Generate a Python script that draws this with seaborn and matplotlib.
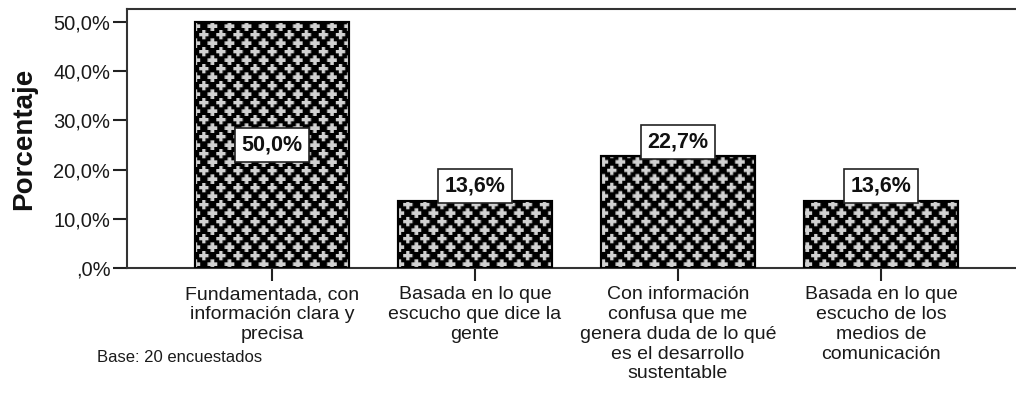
import numpy as np
import pandas as pd
import matplotlib
matplotlib.use("Agg")
import matplotlib.pyplot as plt
from matplotlib.ticker import FuncFormatter, MultipleLocator
import seaborn as sns

categories = [
    "Fundamentada, con\ninformación clara y\nprecisa",
    "Basada en lo que\nescucho que dice la\ngente",
    "Con información\nconfusa que me\ngenera duda de lo qué\nes el desarrollo\nsustentable",
    "Basada en lo que\nescucho de los\nmedios de\ncomunicación",
]
percentages = [50.0, 13.6, 22.7, 13.6]
value_labels = ["50,0%", "13,6%", "22,7%", "13,6%"]
y_label = "Porcentaje"
footnote = "Base: 20 encuestados"

sns.set_theme(style="white")
plt.rcParams["font.family"] = ["Liberation Sans", "DejaVu Sans"]

W, H, DPI = 1016, 396, 100
fig = plt.figure(figsize=(W / DPI, H / DPI), dpi=DPI)
ax_left_px, ax_bottom_px, ax_top_px = 127, 268, 9
xlim = (-0.714, 3.714)
px_per_unit = 203
ax_w_px = (xlim[1] - xlim[0]) * px_per_unit
ax = fig.add_axes([ax_left_px / W, (H - ax_bottom_px) / H,
                   ax_w_px / W, (ax_bottom_px - ax_top_px) / H])

df = pd.DataFrame({"cat": categories, "pct": percentages})
sns.barplot(data=df, x="cat", y="pct", color="black", width=0.76,
            edgecolor="black", linewidth=1.5, saturation=1, ax=ax, zorder=2)

ylim = (0, 50 * (ax_bottom_px - ax_top_px) / (ax_bottom_px - 22))
ax.set_xlim(*xlim)
ax.set_ylim(*ylim)

# staggered "plus" fill pattern (decoration), in axes pixels
hp = int(round(ax_bottom_px - ax_top_px))
wp = int(round(ax_w_px))
ss = 3
yy, xx = np.mgrid[0:hp * ss, 0:wp * ss] / ss
P = 17.0
def cross(dx, dy):
    arm, th = 4.8, 1.8
    return ((np.abs(dx) <= arm) & (np.abs(dy) <= th)) | ((np.abs(dx) <= th) & (np.abs(dy) <= arm))
m = np.zeros_like(xx, dtype=bool)
for ox, oy in [(0, 0), (P / 2, P / 2)]:
    dx = (xx - ox + P / 2) % P - P / 2
    dy = (yy - oy + P / 2) % P - P / 2
    m |= cross(dx, dy)
inten = m.reshape(hp, ss, wp, ss).mean(axis=(1, 3)) * 0.82
img = np.dstack([inten] * 3)

for bar in list(ax.patches):
    im = ax.imshow(img, extent=(xlim[0], xlim[1], ylim[0], ylim[1]), origin="upper",
                   aspect="auto", interpolation="bilinear", zorder=2.5)
    im.set_clip_path(bar)
    outline = plt.Rectangle(bar.get_xy(), bar.get_width(), bar.get_height(),
                            fill=False, edgecolor="black", linewidth=1.5, zorder=3)
    ax.add_patch(outline)

ax.set_xlim(*xlim)
ax.set_ylim(*ylim)

for i, (v, lab) in enumerate(zip(percentages, value_labels)):
    ypos = v / 2 if v > 40 else v + 3
    ax.text(i, ypos, lab, ha="center", va="center", fontsize=15.5, fontweight="bold",
            color="#111111", zorder=4,
            bbox=dict(boxstyle="square,pad=0.3", facecolor="white",
                      edgecolor="#222222", linewidth=1.2))

def fmt(v, pos):
    s = f"{v:.1f}".replace(".", ",")
    if s.startswith("0"):
        s = s[1:]
    return s + "%"

ax.yaxis.set_major_locator(MultipleLocator(10))
ax.yaxis.set_major_formatter(FuncFormatter(fmt))
ax.tick_params(axis="y", length=10, width=1.5, color="#222222", labelsize=14.5,
               labelcolor="#1a1a1a", pad=2, left=True)
ax.tick_params(axis="x", length=9, width=1.5, color="#222222", labelsize=14,
               labelcolor="#1a1a1a", pad=4, bottom=True)
for t in ax.get_xticklabels():
    t.set_linespacing(1.22)
    t.set_ha("center")

ax.set_xlabel("")
ax.set_ylabel(y_label, fontsize=20, fontweight="bold", color="#111111")
ax.yaxis.set_label_coords(-(127 - 37) / ax_w_px, 0.5)

for side in ["left", "bottom", "top", "right"]:
    ax.spines[side].set_visible(True)
    ax.spines[side].set_color("#333333")
    ax.spines[side].set_linewidth(1.5)
ax.grid(False)

fig.text(97 / W, 1 - 357 / H, footnote, ha="left", va="center", fontsize=12,
         color="#1a1a1a")

fig.savefig("out.png", dpi=DPI, facecolor="white")
